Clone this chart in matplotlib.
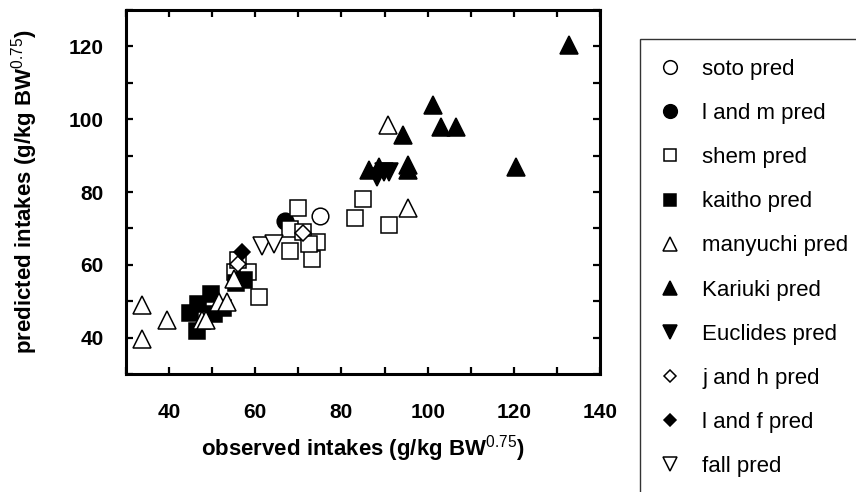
import matplotlib
matplotlib.use("Agg")
import matplotlib.pyplot as plt
from matplotlib.ticker import MultipleLocator

plt.rcParams['font.family'] = ['Liberation Sans', 'DejaVu Sans']
plt.rcParams['mathtext.fontset'] = 'custom'
plt.rcParams['mathtext.rm'] = 'Liberation Sans'
plt.rcParams['mathtext.default'] = 'rm'

# ---- data (observed, predicted) ----
soto_x = [75.1]
soto_y = [73.3]

lm_x = [67.0]
lm_y = [71.9]

shem_x = [69.9, 85.0, 83.1, 91.1, 68.0, 73.2, 74.3, 68.1, 71.0, 72.4, 60.8, 55.3, 58.4, 56.0]
shem_y = [75.6, 78.1, 72.9, 70.8, 63.9, 61.6, 66.2, 69.9, 69.0, 65.8, 51.2, 58.0, 58.0, 61.2]

kaitho_x = [46.5, 44.9, 46.8, 49.7, 50.5, 52.5, 57.3, 55.5]
kaitho_y = [41.7, 46.8, 49.1, 51.9, 46.5, 48.0, 55.7, 55.0]

manyuchi_x = [33.7, 33.7, 39.5, 47.6, 48.6, 51.5, 53.4, 55.0, 90.7, 95.5]
manyuchi_y = [48.9, 39.7, 44.7, 44.7, 44.7, 49.8, 49.8, 56.2, 98.4, 75.5]

kariuki_x = [101.2, 103.2, 106.5, 94.3, 120.6, 95.4, 95.4, 86.5, 88.7, 132.9]
kariuki_y = [103.8, 97.9, 97.9, 95.6, 86.9, 87.3, 86.0, 86.0, 87.0, 120.3]

euclides_x = [88.3, 89.8, 91.0]
euclides_y = [84.0, 85.5, 85.5]

jh_x = [56.0, 71.1]
jh_y = [60.3, 68.8]

lf_x = [57.0]
lf_y = [63.6]

fall_x = [61.6, 64.3]
fall_y = [65.3, 65.7]

series = [
    ('soto pred', soto_x, soto_y, 'o', 'white', 12),
    ('l and m pred', lm_x, lm_y, 'o', 'black', 12),
    ('shem pred', shem_x, shem_y, 's', 'white', 11.3),
    ('kaitho pred', kaitho_x, kaitho_y, 's', 'black', 11.3),
    ('manyuchi pred', manyuchi_x, manyuchi_y, '^', 'white', 12.5),
    ('Kariuki pred', kariuki_x, kariuki_y, '^', 'black', 12.5),
    ('Euclides pred', euclides_x, euclides_y, 'v', 'black', 12.5),
    ('j and h pred', jh_x, jh_y, 'D', 'white', 8),
    ('l and f pred', lf_x, lf_y, 'D', 'black', 8),
    ('fall pred', fall_x, fall_y, 'v', 'white', 12.5),
]

fig = plt.figure(figsize=(8.56, 4.92), dpi=100)
ax = fig.add_axes([126 / 856, 1 - 374 / 492, (600 - 126) / 856, (374 - 10) / 492])

for label, xs, ys, mk, fc, ms in series:
    ax.plot(xs, ys, ls='none', marker=mk, markerfacecolor=fc,
            markeredgecolor='black', markeredgewidth=1.1, markersize=ms,
            label=label, clip_on=False)

ax.set_xlim(30, 140)
ax.set_ylim(30, 130)
ax.xaxis.set_minor_locator(MultipleLocator(10))
ax.yaxis.set_minor_locator(MultipleLocator(10))
ax.set_xticks([40, 60, 80, 100, 120, 140])
ax.set_yticks([40, 60, 80, 100, 120])

ax.tick_params(which='both', direction='in', top=True, right=True,
               length=5, width=1.6, labelsize=15)
ax.tick_params(axis='x', which='both', pad=21)
ax.tick_params(axis='y', which='both', pad=16)
for lbl in ax.get_xticklabels() + ax.get_yticklabels():
    lbl.set_fontweight('bold')
for sp in ax.spines.values():
    sp.set_linewidth(2.2)

ax.set_xlabel('observed intakes (g/kg BW$^{0.75}$)', fontsize=16,
              fontweight='bold', labelpad=8)
ax.set_ylabel('predicted intakes (g/kg BW$^{0.75}$)', fontsize=16,
              fontweight='bold', labelpad=21)

leg = fig.legend(loc='upper left', bbox_to_anchor=(640 / 856, 1 - 39 / 492),
                 bbox_transform=fig.transFigure, fontsize=16, numpoints=1,
                 markerscale=0.82, frameon=True, fancybox=False,
                 borderpad=0.9, handlelength=0.9, handletextpad=0.99,
                 labelspacing=1.04, borderaxespad=0)
leg.get_frame().set_edgecolor('black')
leg.get_frame().set_linewidth(1.0)

fig.savefig('out.png', dpi=100)
